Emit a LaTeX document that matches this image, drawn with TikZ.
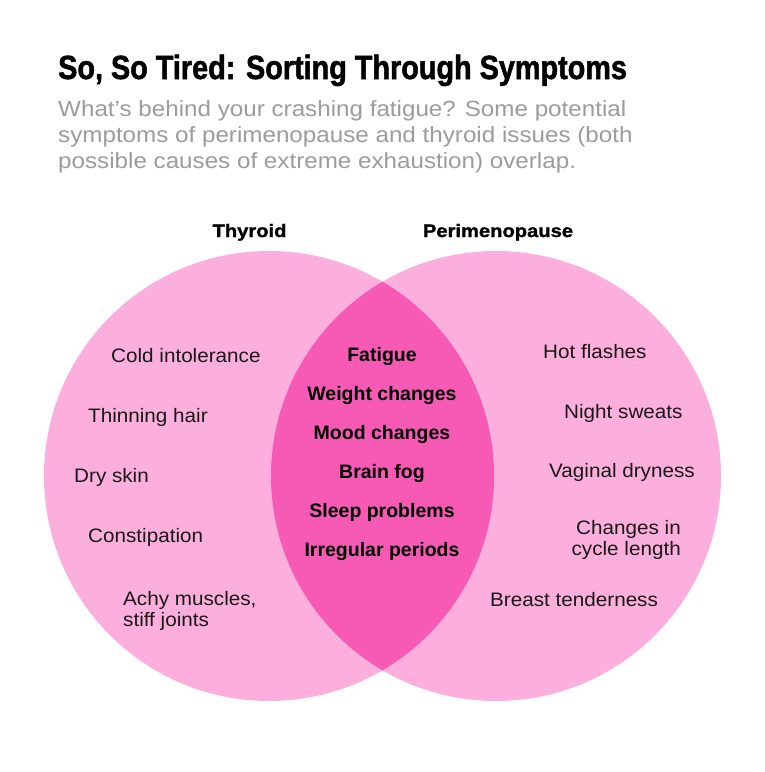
\documentclass[tikz,border=0pt]{standalone}
\usepackage{fontspec}
\setmainfont{Liberation Sans}
\newfontfamily\titlefont{Liberation Sans}[FakeStretch=0.86,FakeBold=1.5]
\newfontfamily\subfont{Liberation Sans}[FakeStretch=1.1]
\newfontfamily\symfont{Liberation Sans}[FakeStretch=1.06]
\newfontfamily\headfont{Liberation Sans}[FakeStretch=1.12,FakeBold=1.5]
\definecolor{pinklight}{HTML}{FCAEDC}
\definecolor{pinkdark}{HTML}{F65AB4}
\definecolor{subgray}{HTML}{9C9C9C}

\begin{document}
\begin{tikzpicture}[x=1pt,y=-1pt,every node/.style={inner sep=0pt},
  ring/.style={circle,fill=pinklight,minimum size=450pt},
  sym/.style={font=\symfont\fontsize{19.5}{21}\selectfont,text=black!90},
  shared/.style={font=\fontsize{19.5}{21}\selectfont\bfseries,text height=14pt,text depth=5pt},
  head/.style={anchor=base,font=\headfont\bfseries\fontsize{18}{20}\selectfont},
  node distance=39pt]
  \useasboundingbox[fill=white] (0,0) rectangle (765,772);

  \node[anchor=base west,font=\titlefont\bfseries\fontsize{33.5}{36}\selectfont] (title) at (58,79)
    {So, So Tired: Sorting Through Symptoms};
  \node[anchor=north west,align=left,text=subgray,font=\subfont\fontsize{22}{26}\selectfont] (sub) at (58,100)
    {What’s behind your crashing fatigue? Some potential\\
     symptoms of perimenopause and thyroid issues (both\\
     possible causes of extreme exhaustion) overlap.};

  \node[ring] (thy) at (269,476) {};
  \node[ring] (peri) at (496,476) {};
  \begin{scope}
    \clip (269,476) circle[radius=225pt];
    \fill[pinkdark] (496,476) circle[radius=225pt];
  \end{scope}

  \node[head] (thyhead) at (249.5,237) {Thyroid};
  \node[head] (perihead) at (498,237) {Perimenopause};

  % thyroid only
  \node[sym,anchor=base west] (cold) at (111,362) {Cold intolerance};
  \node[sym,anchor=base west] (hair) at (88,422) {Thinning hair};
  \node[sym,anchor=base west] (skin) at (74,482) {Dry skin};
  \node[sym,anchor=base west] (const) at (88,542) {Constipation};
  \node[sym,anchor=north west,align=left] (achy) at (123,591) {Achy muscles,\\stiff joints};

  % both
  \node[shared] (fatigue) at (382,357) {Fatigue};
  \node[shared] (weight) [below of=fatigue] {Weight changes};
  \node[shared] (mood) [below of=weight] {Mood changes};
  \node[shared] (fog) [below of=mood] {Brain fog};
  \node[shared] (sleep) [below of=fog] {Sleep problems};
  \node[shared] (periods) [below of=sleep] {Irregular periods};

  % perimenopause only
  \node[sym,anchor=base west] (hot) at (543,358) {Hot flashes};
  \node[sym,anchor=base west] (night) at (564,418) {Night sweats};
  \node[sym,anchor=base west] (dry) at (549,477) {Vaginal dryness};
  \node[sym,anchor=north east,align=right] (cycle) at (681,520) {Changes in\\cycle length};
  \node[sym,anchor=base west] (breast) at (490,606) {Breast tenderness};
\end{tikzpicture}
\end{document}
